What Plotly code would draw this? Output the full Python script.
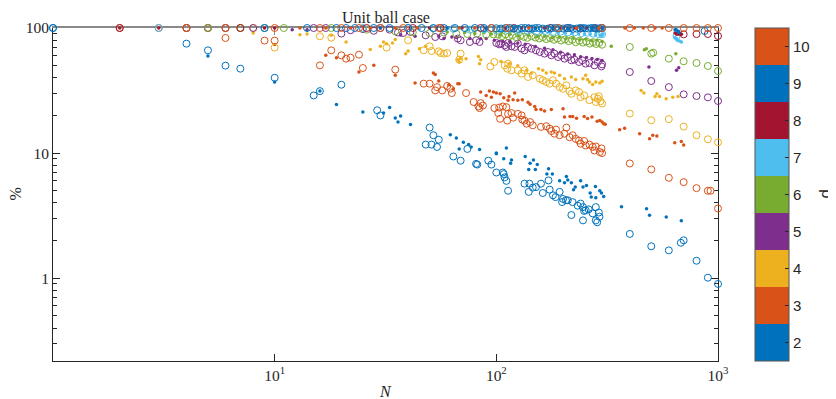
import math
import plotly.graph_objects as go

# ---------------- data (N, percentage) ----------------
d_values = [2, 3, 4, 5, 6, 7, 8, 9, 10]
d_colors = ["#0072BD", "#D95319", "#EDB120", "#7E2F8E", "#77AC30",
            "#4DBEEE", "#A2142F", "#0072BD", "#D95319"]

# d = 2
N_circ_d2 = [1, 4, 5, 6, 7, 10, 15, 16, 20, 29, 30, 48, 50, 51, 52, 54, 55, 64, 69, 74, 81, 82,
             92, 95, 100, 107, 108, 109, 111, 113, 134, 140, 141, 146, 151, 159, 162, 172, 174,
             180, 185, 193, 198, 200, 206, 210, 218, 221, 233, 240, 246, 246, 249, 253, 261, 272,
             281, 281, 285, 290, 292, 400, 500, 600, 680, 700, 800, 900, 1000]
pct_circ_d2 = [100, 75, 66.3, 50, 47.3, 40, 28.9, 31.3, 35.2, 22.0, 20.0, 11.7, 16.0, 11.7, 13.9,
               11.2, 12.8, 9.4, 8.7, 10.8, 8.2, 8.1, 8.7, 8.1, 7.0, 7.0, 6.8, 6.4, 6.0, 5.0, 5.7,
               4.9, 5.7, 5.3, 5.35, 5.7, 4.8, 6.05, 5.1, 4.6, 4.45, 4.9, 4.06, 4.3, 4.2, 4.2, 3.2,
               4.06, 3.8, 3.95, 3.7, 2.9, 3.45, 3.5, 3.55, 3.3, 3.7, 2.9, 2.8, 3.35, 3.1, 2.26,
               1.80, 1.67, 1.92, 2.01, 1.38, 1.01, 0.90]
N_dot_d2 = [5, 10, 16, 19, 25, 31, 33, 35, 36, 37, 41, 62, 66, 68, 71, 75, 77, 84, 100, 100, 108,
            111, 116, 117, 135, 140, 142, 147, 150, 153, 169, 172, 179, 193, 203, 207, 210, 218,
            223, 227, 240, 246, 255, 265, 268, 280, 281, 293, 298, 305, 367, 476, 491, 584, 683]
pct_dot_d2 = [59.7, 37.1, 31.3, 24.5, 21.3, 20.9, 23.1, 19.1, 17.7, 19.8, 16.9, 14.0, 13.2, 10.8,
              12.2, 11.7, 11.2, 10.7, 10.0, 9.9, 9.0, 11.0, 8.3, 8.8, 9.4, 7.4, 8.3, 8.8, 7.4, 8.1,
              6.8, 7.5, 6.8, 6.0, 5.8, 6.5, 6.1, 5.8, 5.1, 5.35, 6.0, 5.35, 5.5, 4.8, 4.45, 5.4,
              4.4, 5.0, 4.8, 4.5, 3.73, 3.59, 3.19, 3.08, 2.88]

# d = 3
N_circ_d3 = [2, 3, 4, 5, 6, 9, 10, 16, 18, 20, 21, 22, 24, 25, 35, 47, 50, 53, 54, 57, 60, 62, 63,
             73, 79, 83, 84, 85, 87, 98, 102, 103, 104, 107, 111, 112, 113, 117, 119, 125, 130,
             131, 134, 137, 142, 146, 159, 168, 174, 177, 183, 186, 193, 203, 207, 214, 221, 228,
             236, 240, 249, 253, 263, 272, 277, 281, 293, 298, 300, 400, 500, 600, 700, 800, 900,
             925, 1000]
pct_circ_d3 = [100, 100, 100, 100, 83.2, 79.3, 79.3, 50.3, 66.3, 60.5, 56.9, 57.9, 61.2, 47.9,
               46.5, 35.9, 35.9, 31.7, 33.7, 31.7, 34.4, 32.7, 30.2, 30.2, 25.6, 23.6, 22.9, 25.1,
               24.0, 22.9, 20.9, 23.1, 18.8, 23.6, 23.3, 18.2, 20.6, 20.9, 19.2, 20.6, 20.0, 18.5,
               18.2, 17.2, 17.7, 16.7, 16.2, 16.4, 15.7, 15.0, 14.3, 15.4, 13.9, 14.3, 16.0, 13.4,
               13.9, 13.0, 12.6, 11.9, 12.5, 11.5, 11.7, 11.2, 10.5, 11.3, 10.2, 10.9, 10.0, 8.27,
               7.41, 6.35, 5.86, 5.25, 5.0, 5.0, 3.61]
N_dot_d3 = [10, 17, 19, 24, 28, 35, 43, 52, 53, 55, 61, 64, 67, 68, 85, 90, 93, 95, 97, 100, 104,
            108, 113, 114, 119, 121, 125, 131, 139, 142, 149, 151, 159, 165, 177, 200, 203, 215,
            221, 230, 249, 258, 270, 285, 293, 300, 305, 310, 360, 379, 443, 491, 508, 530, 638,
            683, 700]
pct_dot_d3 = [73.7, 60.5, 57.9, 44.5, 50.3, 41.9, 36.3, 43.6, 42.4, 37.7, 35.2, 32.7, 35.9, 35.9,
              30.8, 28.9, 31.3, 28.0, 30.8, 30.2, 29.8, 27.7, 26.5, 28.4, 26.7, 30.2, 26.5, 26.7,
              25.5, 24.6, 23.6, 22.3, 22.3, 21.7, 22.3, 22.6, 19.4, 19.6, 19.6, 19.0, 19.6, 18.9,
              19.4, 18.0, 18.2, 17.7, 17.2, 17.0, 15.4, 15.8, 14.3, 13.0, 13.9, 13.7, 12.1, 12.4,
              11.6]

# d = 4
N_circ_d4 = [4, 5, 6, 7, 8, 9, 10, 16, 18, 32, 40, 47, 50, 51, 55, 56, 58, 60, 68, 69, 94, 98,
             109, 112, 113, 117, 125, 130, 134, 139, 146, 157, 162, 168, 174, 180, 186, 193, 200,
             207, 214, 218, 228, 236, 240, 249, 263, 277, 281, 287, 290, 295, 300, 400, 500, 600,
             700, 800, 900, 1000]
pct_circ_d4 = [100, 100, 100, 100, 100, 100, 69.7, 85.8, 83.7, 69.7, 79.8, 66.3, 71.4, 65.5, 65.1,
               63.1, 62.4, 63.1, 55.8, 62.4, 49.3, 53.5, 50.3, 47.3, 51.9, 45.9, 45.9, 43.2, 45.9,
               40.6, 41.9, 39.3, 38.2, 37.0, 35.9, 38.2, 35.9, 33.7, 32.7, 34.8, 31.3, 29.8, 31.7,
               30.8, 28.0, 28.9, 26.5, 28.0, 25.6, 27.2, 28.5, 26.0, 24.9, 20.7, 18.3, 18.7, 16.3,
               13.9, 12.9, 12.2]
N_dot_d4 = [8, 13, 14, 18, 21, 27, 30, 31, 32, 34, 35, 39, 40, 45, 48, 67, 68, 69, 73, 83, 84, 85,
            105, 115, 125, 137, 144, 155, 162, 168, 177, 183, 193, 203, 218, 228, 246, 253, 258,
            263, 272, 281, 293, 300, 450, 463, 520, 530, 545, 584, 625, 660]
pct_dot_d4 = [91.2, 88.5, 89.5, 87.4, 77.3, 67.2, 71.4, 77.3, 75.0, 75.9, 80.8, 62.4, 65.5, 68.4,
              71.4, 55.8, 53.5, 57.0, 56.9, 59.3, 51.9, 55.8, 54.0, 52.0, 50.0, 45.9, 43.7, 47.3,
              45.9, 43.7, 44.5, 43.7, 41.9, 39.3, 40.6, 38.7, 39.3, 41.9, 38.7, 37.0, 35.4, 37.0,
              36.3, 37.5, 31.7, 30.2, 28.4, 29.8, 28.4, 27.2, 28.0, 28.4]

# d = 5
N_circ_d5 = [4, 5, 6, 8, 15, 17, 20, 22, 25, 28, 30, 33, 36, 38, 41, 48, 53, 57, 67, 69, 76, 81,
             84, 100, 103, 105, 109, 111, 113, 117, 121, 125, 130, 134, 139, 144, 151, 157, 165,
             171, 177, 183, 190, 196, 203, 210, 218, 225, 236, 244, 253, 263, 277, 287, 298, 300,
             400, 500, 600, 700, 800, 900, 1000]
pct_circ_d5 = [100, 100, 100, 100, 100, 100, 90.2, 96, 98, 95, 100, 97, 92, 91.2, 93, 87.4, 84.7,
               85.8, 82.3, 79.8, 77.3, 79.8, 77.3, 75.9, 74.0, 75.0, 72.7, 70.5, 75.9, 71.4, 70.5,
               75.0, 68.4, 66.3, 70.5, 68.4, 66.3, 64.3, 62.4, 64.3, 60.5, 62.4, 58.6, 60.5, 56.9,
               58.6, 55.2, 55.8, 53.5, 55.2, 51.9, 52.5, 50.3, 53.5, 49.3, 51.2, 44.5, 37.7, 33.7,
               29.5, 28.6, 27.9, 26.1]
N_dot_d5 = [12, 14, 37, 43, 55, 58, 63, 66, 76, 85, 90, 98, 107, 115, 125, 135, 150, 165, 180,
            195, 210, 225, 240, 255, 270, 285, 300, 488, 650, 665]
pct_dot_d5 = [97, 97, 88, 85.8, 85.8, 82.3, 84.7, 84, 82.3, 82, 82.3, 79.8, 78, 78, 76, 74, 71,
              69, 67, 64, 62, 61, 59, 58, 57, 56, 55, 48.8, 45.9, 48.2]

# d = 6
N_circ_d6 = [5, 7, 11, 18, 26, 35, 42, 50, 58, 66, 74, 82, 90, 97, 102, 106, 110, 114, 118, 123,
             128, 133, 138, 144, 150, 156, 162, 168, 175, 182, 189, 196, 204, 212, 220, 228, 237,
             246, 255, 264, 273, 282, 291, 300, 400, 500, 510, 600, 700, 800, 900, 1000]
pct_circ_d6 = [100, 100, 100, 100, 97, 94, 92.5, 91, 92, 90, 89.5, 90.5, 88.5, 89, 88.5, 86.0,
               89.0, 85.5, 87.5, 84.5, 86.5, 85.0, 83.5, 86.0, 84.0, 82.5, 84.5, 81.5, 83.0, 80.5,
               82.5, 79.5, 81.0, 78.5, 80.5, 77.0, 79.0, 76.5, 78.0, 75.0, 77.0, 74.5, 76.0, 73.5,
               70.5, 62.4, 63.5, 56.9, 54.2, 52.5, 49.7, 45.3]
N_dot_d6 = [60, 72, 80, 88, 95, 104, 115, 126, 140, 152, 165, 178, 192, 206, 222, 238, 254, 270,
            285, 300, 330, 465, 475, 645]
pct_dot_d6 = [93, 92, 90.5, 91.5, 89.5, 88, 89, 86.5, 87.5, 85, 86, 83.5, 84.5, 82, 83, 80.5,
              81.5, 79, 80, 78, 71.4, 67.1, 68.4, 62.4]

# d = 7
N_circ_d7 = [3, 9, 25, 40, 52, 64, 76, 88, 100, 112, 125, 138, 152, 166, 180, 195, 210, 226, 242,
             258, 274, 290, 300, 650]
pct_circ_d7 = [100, 100, 100, 100, 99, 98.5, 97, 97.5, 96, 96.5, 95, 95.5, 94, 94.5, 93, 93.5, 92,
               92.5, 91, 91.5, 90, 89.5, 89, 86]
N_dot_d7 = [45, 60, 75, 90, 105, 118, 130, 145, 160, 175, 190, 205, 220, 235, 250, 265, 280, 295,
            300, 303, 640, 650, 655, 670, 684]
pct_dot_d7 = [99, 98, 97.5, 96, 95.5, 95, 94, 93.5, 93, 92.5, 91.5, 91, 90.5, 90, 89.5, 89, 88.5,
              88, 87, 89.5, 84, 82, 79.8, 78.7, 77.3]

# d = 8
N_circ_d8 = [2, 7, 26, 42, 56, 85, 120, 140, 175, 210, 240, 280, 700, 800, 900, 1000]
pct_circ_d8 = [100, 100, 100, 100, 100, 100, 100, 99, 100, 100, 99, 100, 89, 89.5, 89.5, 86.3]
N_dot_d8 = [2, 3, 9, 10, 30, 50, 70, 90, 110, 130, 150, 165, 180, 195, 210, 225, 240, 255, 270,
            285, 300, 640, 650, 653, 660, 667, 670, 675, 684]
pct_dot_d8 = [100, 100, 100, 100, 100, 100, 100, 99.5, 99.5, 100, 99.5, 100, 99.5, 100, 99.5, 100,
              99.5, 100, 99.5, 100, 99.5, 91, 89.5, 89.5, 90, 90, 89.5, 90, 89]

# d = 9
N_circ_d9 = [1, 9, 14, 19, 21, 23, 28, 33, 40, 46, 52, 58, 65, 72, 80, 88, 95, 100, 105, 110, 115,
             120, 125, 130, 135, 140, 145, 150, 155, 162, 170, 178, 185, 192, 200, 208, 215, 222,
             230, 238, 245, 252, 260, 268, 275, 282, 290, 296, 300, 870]
pct_circ_d9 = [100, 100, 100, 100, 100, 100, 100, 100, 100, 100, 100, 100, 100, 100, 100, 100, 100,
               99.5, 99, 100, 100, 99, 98.5, 100, 100, 99.5, 99, 100, 100, 99, 98.5, 100, 100, 99.5,
               99, 100, 100, 98.5, 99, 100, 100, 99.5, 99, 100, 100, 98.5, 99, 100, 100, 94.6]
N_dot_d9 = [30, 60, 90, 120, 150, 180, 210, 240, 270, 300, 640, 646, 648, 663, 665]
pct_dot_d9 = [100, 100, 99.5, 99.5, 99, 99.5, 99, 99.5, 99, 99.5, 97, 96.5, 97, 94, 92]

# d = 10
N_circ_d10 = [4, 6, 10, 16, 20, 24, 30, 38, 55, 95, 112, 190, 300,
              400, 500, 600, 700, 800, 900, 1000]
pct_circ_d10 = [100] * len(N_circ_d10)
N_dot_d10 = [13, 17, 22, 27, 35, 44, 68, 80, 140, 230, 290, 380, 420,
             460, 520, 560]
pct_dot_d10 = [100] * len(N_dot_d10)

x_tick_vals = [10, 100, 1000]
x_tick_text = ["10<sup>1</sup>", "10<sup>2</sup>", "10<sup>3</sup>"]
y_tick_vals = [1, 10, 100]
y_tick_text = ["1", "10", "100"]
y_minor_vals = [0.3, 0.4, 0.5, 0.6, 0.7, 0.8, 0.9, 2, 3, 4, 5, 6, 7, 8, 9,
                20, 30, 40, 50, 60, 70, 80, 90]

circles = {2: (N_circ_d2, pct_circ_d2), 3: (N_circ_d3, pct_circ_d3), 4: (N_circ_d4, pct_circ_d4),
           5: (N_circ_d5, pct_circ_d5), 6: (N_circ_d6, pct_circ_d6), 7: (N_circ_d7, pct_circ_d7),
           8: (N_circ_d8, pct_circ_d8), 9: (N_circ_d9, pct_circ_d9), 10: (N_circ_d10, pct_circ_d10)}
dots = {2: (N_dot_d2, pct_dot_d2), 3: (N_dot_d3, pct_dot_d3), 4: (N_dot_d4, pct_dot_d4),
        5: (N_dot_d5, pct_dot_d5), 6: (N_dot_d6, pct_dot_d6), 7: (N_dot_d7, pct_dot_d7),
        8: (N_dot_d8, pct_dot_d8), 9: (N_dot_d9, pct_dot_d9), 10: (N_dot_d10, pct_dot_d10)}

# ---------------- figure ----------------
AX = "#262626"
GRAY = "#8a8a8a"
SERIF = "Liberation Serif, Times New Roman, serif"
SANS = "Liberation Sans, Arial, sans-serif"

fig = go.Figure()
for d, col in zip(d_values, d_colors):
    cx, cy = circles[d]
    fig.add_trace(go.Scatter(
        x=cx, y=cy, mode="markers", cliponaxis=False, showlegend=False, hoverinfo="skip",
        marker=dict(symbol="circle-open", size=7, color=col, line=dict(width=1, color=col))))
    dx, dy = dots[d]
    fig.add_trace(go.Scatter(
        x=dx, y=dy, mode="markers", cliponaxis=False, showlegend=False, hoverinfo="skip",
        marker=dict(symbol="circle", size=3.5, color=col, line=dict(width=0))))

# invisible trace on the top axis so that it is drawn
fig.add_trace(go.Scatter(x=[None], y=[None], xaxis="x2", yaxis="y", mode="markers",
                         showlegend=False, hoverinfo="skip"))

# discrete colour bar
cscale = []
n = len(d_values)
for i, col in enumerate(d_colors):
    cscale.append([i / n, col])
    cscale.append([(i + 1) / n, col])
fig.add_trace(go.Scatter(
    x=[None], y=[None], mode="markers", showlegend=False, hoverinfo="skip",
    marker=dict(color=[2], colorscale=cscale, cmin=1.5, cmax=10.5, showscale=True,
                colorbar=dict(thickness=34, thicknessmode="pixels", len=1.0, lenmode="fraction",
                              x=1.0556, xanchor="left", y=0.5, yanchor="middle",
                              xpad=0, ypad=0, outlinecolor="#555555", outlinewidth=1,
                              tickmode="array", tickvals=d_values,
                              ticktext=[str(v) for v in d_values],
                              ticks="inside", ticklen=4, tickcolor=AX,
                              tickfont=dict(family=SANS, size=15, color=AX)))))

# the page body adds an 8 px offset, so the figure is 8 px smaller than the window
fig.update_layout(
    width=828, height=391,
    margin=dict(l=45, r=118, t=20, b=38, autoexpand=False),
    paper_bgcolor="white", plot_bgcolor="white",
    font=dict(family=SERIF, color=AX),
    xaxis=dict(type="log", range=[0, 3], showline=True, linecolor=AX, linewidth=1,
               mirror=False, ticks="inside", ticklen=7, tickcolor=AX, tickwidth=1,
               tickmode="array", tickvals=x_tick_vals, ticktext=x_tick_text,
               tickfont=dict(family=SERIF, size=15.5, color=AX),
               showgrid=False, zeroline=False, layer="below traces"),
    xaxis2=dict(type="log", range=[0, 3], overlaying="x", anchor="y", side="top",
                showline=True, linecolor=GRAY, linewidth=1.6, ticks="inside", ticklen=7,
                tickcolor=GRAY, tickwidth=1, tickmode="array", tickvals=[10, 100],
                showticklabels=False, showgrid=False, zeroline=False, layer="below traces"),
    yaxis=dict(type="log", range=[math.log10(0.218), 2], showline=True, linecolor=AX,
               linewidth=1, mirror="ticks", ticks="inside", ticklen=7, tickcolor=AX, tickwidth=1,
               tickmode="array", tickvals=y_tick_vals, ticktext=y_tick_text,
               tickfont=dict(family=SERIF, size=15.5, color=AX),
               minor=dict(ticks="inside", ticklen=4, tickcolor=AX, tickmode="array",
                          tickvals=y_minor_vals, showgrid=False),
               showgrid=False, zeroline=False, layer="below traces"),
    annotations=[
        dict(text="Unit ball case", xref="paper", yref="paper", x=0.5, y=1.0,
             xanchor="center", yanchor="bottom", yshift=0, showarrow=False,
             font=dict(family=SERIF, size=16, color=AX)),
        dict(text="<i>N</i>", xref="paper", yref="paper", x=0.5, y=0.0,
             xanchor="center", yanchor="top", yshift=-20, showarrow=False,
             font=dict(family=SERIF, size=16, color=AX)),
        dict(text="%", xref="paper", yref="paper", x=-0.057, y=0.5, textangle=-90,
             xanchor="center", yanchor="middle", showarrow=False,
             font=dict(family=SERIF, size=16, color=AX)),
        dict(text="d", xref="paper", yref="paper", x=1.161, y=0.5, textangle=-90,
             xanchor="center", yanchor="middle", showarrow=False,
             font=dict(family=SANS, size=17, color=AX)),
    ],
)

fig.write_html("out.html")
